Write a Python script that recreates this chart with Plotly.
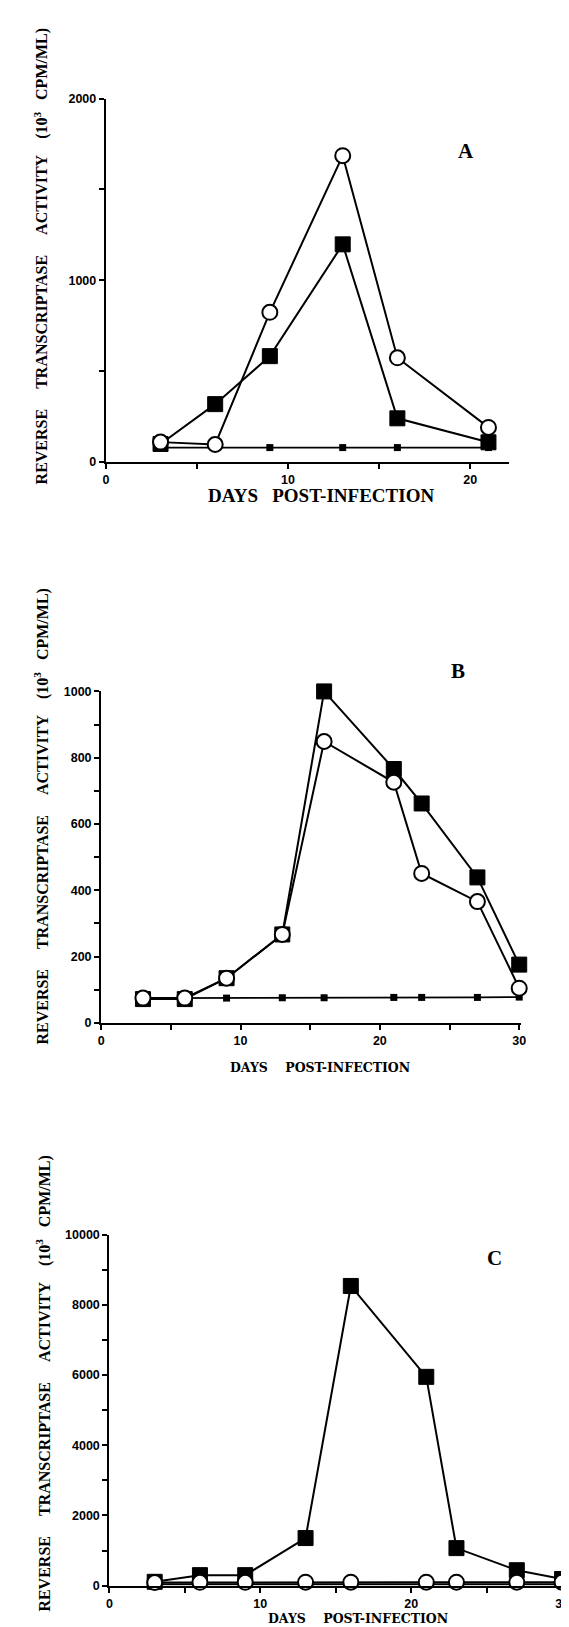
import plotly.graph_objects as go

W, H = 569, 1627

# ---------------- data ----------------
# Panel A
a_days = [3, 6, 9, 13, 16, 21]
a_circle = [110, 97, 824, 1686, 574, 191]
a_square = [100, 319, 583, 1198, 241, 109]
a_control = [80, 80, 80, 80, 80, 80]

# Panel B
b_days = [3, 6, 9, 13, 16, 21, 23, 27, 30]
b_circle = [75, 75, 135, 267, 849, 726, 451, 366, 105]
b_square = [72, 72, 135, 267, 1000, 766, 662, 439, 176]
b_control = [75, 75, 75, 76, 76, 77, 77, 77, 78]

# Panel C
c_days = [3, 6, 9, 13, 16, 21, 23, 27, 30]
c_circle = [90, 95, 95, 100, 100, 100, 100, 100, 100]
c_square = [110, 300, 300, 1356, 8540, 5950, 1070, 440, 190]
c_control = [40, 40, 40, 40, 40, 40, 40, 40, 40]

# tick definitions
a_xticks = [0, 5, 10, 15, 20]
a_xlabels = ["0", "", "10", "", "20"]
a_yticks = [0, 500, 1000, 1500, 2000]
a_ylabels = ["0", "", "1000", "", "2000"]

b_xticks = [0, 5, 10, 15, 20, 25, 30]
b_xlabels = ["0", "", "10", "", "20", "", "30"]
b_yticks = [0, 100, 200, 300, 400, 500, 600, 700, 800, 900, 1000]
b_ylabels = ["0", "", "200", "", "400", "", "600", "", "800", "", "1000"]

c_xticks = [0, 5, 10, 15, 20, 25, 30]
c_xlabels = ["0", "", "10", "", "20", "", "30"]
c_yticks = [0, 1000, 2000, 3000, 4000, 5000, 6000, 7000, 8000, 9000, 10000]
c_ylabels = ["0", "", "2000", "", "4000", "", "6000", "", "8000", "", "10000"]

NB = "\u00a0"
ytitle = ("REVERSE" + NB * 5 + "TRANSCRIPTASE" + NB * 5 + "ACTIVITY" + NB * 4 +
          "(10<sup>3</sup>" + NB * 3 + "CPM/ML)")
xtitle_a = "DAYS" + NB * 3 + "POST-INFECTION"
xtitle_bc = "DAYS" + NB * 4 + "POST-INFECTION"

SERIF = "Liberation Serif"
SANS = "Liberation Sans"


def fx(p):
    return p / W


def fy(p):
    return 1 - p / H


fig = go.Figure()

panels = [
    # (suffix, days, control, square, circle)
    ("", a_days, a_control, a_square, a_circle),
    ("2", b_days, b_control, b_square, b_circle),
    ("3", c_days, c_control, c_square, c_circle),
]

for suf, days, ctrl, sq, circ in panels:
    xa = "x" + suf
    ya = "y" + suf
    fig.add_trace(go.Scatter(
        x=days, y=ctrl, xaxis=xa, yaxis=ya, mode="lines+markers",
        line=dict(color="black", width=1.8),
        marker=dict(symbol="square", size=7, color="black"),
        cliponaxis=False, showlegend=False))
    fig.add_trace(go.Scatter(
        x=days, y=sq, xaxis=xa, yaxis=ya, mode="lines+markers",
        line=dict(color="black", width=2),
        marker=dict(symbol="square", size=15, color="black",
                    line=dict(color="black", width=1)),
        cliponaxis=False, showlegend=False))
    fig.add_trace(go.Scatter(
        x=days, y=circ, xaxis=xa, yaxis=ya, mode="lines+markers",
        line=dict(color="black", width=2),
        marker=dict(symbol="circle", size=15, color="white",
                    line=dict(color="black", width=2)),
        cliponaxis=False, showlegend=False))

axis_common = dict(
    showline=True, linecolor="black", linewidth=2.2,
    ticks="outside", ticklen=5, tickwidth=1.6, tickcolor="black",
    showgrid=False, zeroline=False, mirror=False,
    tickfont=dict(family=SANS, size=12.5, color="black", weight="bold"),
)

fig.update_layout(
    width=W, height=H,
    margin=dict(l=0, r=0, t=0, b=0),
    paper_bgcolor="white", plot_bgcolor="white",
    xaxis=dict(domain=[fx(96.4), fx(505.5)], range=[0, 22.1], anchor="y",
               tickmode="array", tickvals=a_xticks, ticktext=a_xlabels, **axis_common),
    yaxis=dict(domain=[fy(451), fy(84.3)], range=[0, 2000], anchor="x",
               tickmode="array", tickvals=a_yticks, ticktext=a_ylabels, **axis_common),
    xaxis2=dict(domain=[fx(91.6), fx(517.8)], range=[0, 30.1], anchor="y2",
                tickmode="array", tickvals=b_xticks, ticktext=b_xlabels, **axis_common),
    yaxis2=dict(domain=[fy(1016.7), fy(682.3)], range=[0, 1000], anchor="x2",
                tickmode="array", tickvals=b_yticks, ticktext=b_ylabels, **axis_common),
    xaxis3=dict(domain=[fx(100), fx(567.6)], range=[0, 30.5], anchor="y3",
                tickmode="array", tickvals=c_xticks, ticktext=c_xlabels, **axis_common),
    yaxis3=dict(domain=[fy(1584.3), fy(1230.3)], range=[0, 10000], anchor="x3",
                tickmode="array", tickvals=c_yticks, ticktext=c_ylabels, **axis_common),
)

ann = []
# y titles
for xc, yc in [(31, 244), (31, 809), (33, 1380)]:
    ann.append(dict(x=fx(xc), y=fy(yc), xref="paper", yref="paper", text=ytitle,
                    textangle=-90, showarrow=False, xanchor="center", yanchor="middle",
                    font=dict(family=SERIF, size=16, color="black", weight="bold")))
# x titles
ann.append(dict(x=fx(315), y=fy(485), xref="paper", yref="paper", text=xtitle_a,
                showarrow=False, xanchor="center", yanchor="middle",
                font=dict(family=SERIF, size=19, color="black", weight="bold")))
ann.append(dict(x=fx(314), y=fy(1061.5), xref="paper", yref="paper", text=xtitle_bc,
                showarrow=False, xanchor="center", yanchor="middle",
                font=dict(family="DejaVu Serif", size=12.5, color="black", weight="bold")))
ann.append(dict(x=fx(352.7), y=fy(1627), xref="paper", yref="paper", text=xtitle_bc,
                showarrow=False, xanchor="center", yanchor="bottom",
                font=dict(family="DejaVu Serif", size=12.5, color="black", weight="bold")))
# panel letters
for letter, xc, yc in [("A", 462.5, 137), ("B", 453.8, 662), ("C", 491, 1254)]:
    ann.append(dict(x=fx(xc), y=fy(yc), xref="paper", yref="paper", text=letter,
                    showarrow=False, xanchor="center", yanchor="middle",
                    font=dict(family=SERIF, size=21, color="black", weight="bold")))

fig.update_layout(annotations=ann)

fig.write_html("out.html")
